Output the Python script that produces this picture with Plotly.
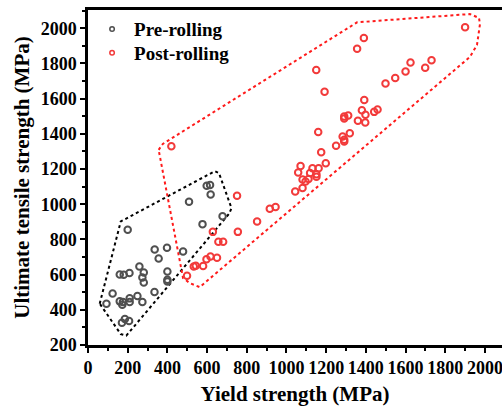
import plotly.graph_objects as go

# Pre-rolling (yield strength, UTS) in MPa
pre_ys = [200, 509, 598, 615, 618, 678, 577, 336, 398, 356, 479, 259, 281, 274, 281,
          400, 400, 400, 160, 180, 209, 335, 124, 93, 160, 176, 173, 210, 210, 249,
          274, 186, 171, 207]
pre_uts = [855, 1014, 1105, 1109, 1055, 932, 887, 743, 753, 692, 732, 646, 612, 584, 555,
           618, 571, 561, 601, 599, 609, 501, 493, 435, 448, 444, 429, 465, 444, 478,
           444, 348, 327, 336]

# Post-rolling
post_ys = [420, 751, 852, 755, 629, 657, 681, 597, 617, 650, 543, 533, 580, 499,
           916, 945, 1044, 1081, 1081, 1096, 1111, 1059, 1071, 1119, 1131, 1151, 1151,
           1162, 1198, 1175,
           1160, 1250, 1283, 1291, 1291, 1319, 1291, 1291, 1311, 1360, 1397, 1398, 1380,
           1442, 1459, 1392, 1192, 1150, 1499, 1548, 1600, 1625, 1699, 1731, 1356, 1390,
           1900]
post_uts = [1330, 1048, 902, 843, 843, 787, 787, 688, 703, 696, 650, 646, 649, 594,
            974, 984, 1072, 1092, 1140, 1129, 1144, 1180, 1218, 1177, 1205, 1171, 1156,
            1205, 1233, 1296,
            1411, 1332, 1385, 1366, 1356, 1404, 1498, 1487, 1504, 1474, 1464, 1508, 1534,
            1525, 1538, 1593, 1640, 1763, 1686, 1718, 1754, 1805, 1776, 1818, 1884, 1945,
            2006]

# Dotted envelopes
pre_hull_x = [59, 165, 639, 660, 723, 711, 193, 165, 59]
pre_hull_y = [435, 902, 1188, 1177, 978, 946, 253, 262, 435]
post_hull_x = [356, 377, 1356, 1924, 1970, 1975, 1960, 1924, 563, 513, 479, 356]
post_hull_y = [1309, 1343, 2034, 2081, 2059, 2024, 1905, 1837, 529, 552, 580, 1309]

labels = ["Pre-rolling", "Post-rolling"]
GRAY = "#4f4f4f"
RED = "#f23a3a"
FONT = "Liberation Serif"

fig = go.Figure()
fig.add_trace(go.Scatter(x=pre_hull_x, y=pre_hull_y, mode="lines",
                         line=dict(color="black", width=2, dash="dot"),
                         showlegend=False, hoverinfo="skip"))
fig.add_trace(go.Scatter(x=post_hull_x, y=post_hull_y, mode="lines",
                         line=dict(color="#ff1a1a", width=2, dash="dot"),
                         showlegend=False, hoverinfo="skip"))
fig.add_trace(go.Scatter(x=pre_ys, y=pre_uts, mode="markers", showlegend=False,
                         marker=dict(symbol="circle-open", size=6.5, color=GRAY,
                                     line=dict(width=2, color=GRAY))))
fig.add_trace(go.Scatter(x=post_ys, y=post_uts, mode="markers", showlegend=False,
                         marker=dict(symbol="circle-open", size=6.5, color=RED,
                                     line=dict(width=2, color=RED))))
# legend entries (smaller symbols, as in the original)
fig.add_trace(go.Scatter(x=[None], y=[None], mode="markers", name=labels[0],
                         legend="legend",
                         marker=dict(symbol="circle-open", size=4.5, color=GRAY,
                                     line=dict(width=1.5, color=GRAY))))
fig.add_trace(go.Scatter(x=[None], y=[None], mode="markers", name=labels[1],
                         legend="legend2",
                         marker=dict(symbol="circle-open", size=4.5, color=RED,
                                     line=dict(width=1.5, color=RED))))

axis_common = dict(
    showgrid=False, zeroline=False, showline=True, linecolor="black", linewidth=2.5,
    ticks="outside", ticklen=5, tickwidth=2, tickcolor="black", tickangle=0,
    automargin=False, ticklabeloverflow="allow",
    tickfont=dict(family=FONT, size=18, color="black", weight="bold"),
    minor=dict(ticks="outside", ticklen=3, tickwidth=1.5, tickcolor="black", dtick=100),
)
leg_common = dict(xanchor="left", yanchor="middle", bgcolor="rgba(0,0,0,0)",
                  font=dict(family=FONT, size=19, color="black", weight="bold"),
                  itemwidth=34)
fig.update_layout(
    width=502, height=406,
    margin=dict(l=88, r=0, t=10, b=61),
    paper_bgcolor="white", plot_bgcolor="white",
    font=dict(family=FONT, color="black", weight="bold"),
    xaxis=dict(range=[0, 2086], dtick=200, tick0=0, mirror=True,
               title=dict(text="Yield strength (MPa)",
                          font=dict(family=FONT, size=21, color="black", weight="bold"),
                          standoff=10),
               **axis_common),
    yaxis=dict(range=[200, 2104], dtick=200, tick0=0, mirror=False,
               title=dict(text="Ultimate tensile strength (MPa)",
                          font=dict(family=FONT, size=21, color="black", weight="bold"),
                          standoff=6),
               **axis_common),
    legend=dict(x=0.005, y=0.943, **leg_common),
    legend2=dict(x=0.005, y=0.872, **leg_common),
    showlegend=True,
)

fig.write_html("out.html")
